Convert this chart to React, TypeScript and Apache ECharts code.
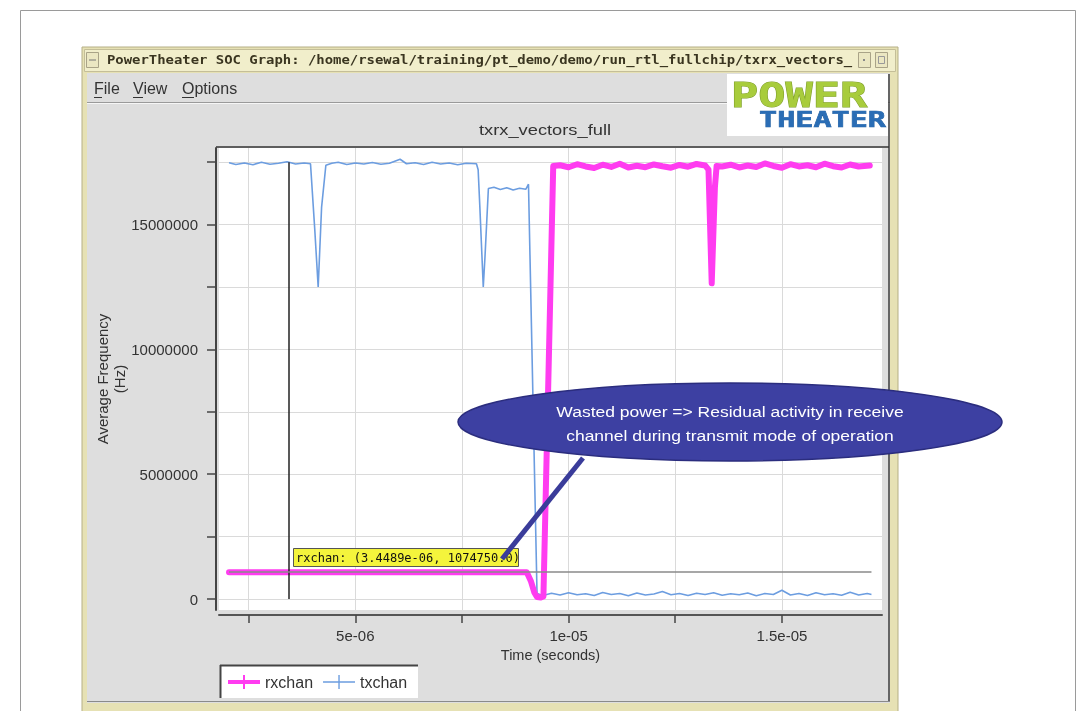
import React, { useEffect, useRef } from 'react';
import * as echarts from 'echarts';

// ---- data (time in microseconds, frequency in MHz) ----
const txTimeUs = [
  2.04, 2.2, 2.4, 2.6, 2.8, 3.0, 3.2, 3.4, 3.6, 3.8, 3.95,
  4.05, 4.13, 4.21, 4.31,
  4.45, 4.6, 4.8, 5.0, 5.2, 5.4, 5.6, 5.8, 6.05, 6.2, 6.4, 6.6, 6.8, 7.0, 7.2, 7.4, 7.6, 7.84,
  7.88, 7.92, 8.0, 8.04, 8.12,
  8.25, 8.4, 8.55, 8.7, 8.85, 9.0, 9.06,
  9.26, 9.4, 9.6, 9.8, 10.0, 10.2, 10.4, 10.6, 10.8, 11.0, 11.2, 11.4, 11.6, 11.8, 12.0,
  12.2, 12.4, 12.6, 12.8, 13.0, 13.2, 13.4, 13.6, 13.8, 14.0, 14.2, 14.4, 14.6, 14.8, 15.0,
  15.2, 15.4, 15.6, 15.8, 16.0, 16.2, 16.4, 16.6, 16.8, 17.0, 17.1,
];
const txFreqMHz = [
  17.48, 17.41, 17.47, 17.40, 17.50, 17.42, 17.46, 17.52, 17.43, 17.47, 17.44,
  14.8, 12.5, 15.7, 17.38,
  17.46, 17.50, 17.41, 17.47, 17.43, 17.49, 17.42, 17.46, 17.62, 17.44, 17.48, 17.41, 17.50, 17.43, 17.47, 17.40, 17.46, 17.44,
  17.2, 15.7, 12.5, 13.7, 16.45,
  16.50, 16.41, 16.48, 16.39, 16.46, 16.42, 16.62,
  0.22, 0.14, 0.23, 0.16, 0.25, 0.17, 0.21, 0.14, 0.26, 0.18, 0.22, 0.13, 0.24, 0.16, 0.20,
  0.30, 0.17, 0.22, 0.14, 0.23, 0.18, 0.25, 0.15, 0.21, 0.17, 0.24, 0.13, 0.22, 0.18, 0.35,
  0.16, 0.22, 0.14, 0.25, 0.17, 0.21, 0.15, 0.27, 0.16, 0.22, 0.18,
];
const rxTimeUs = [
  2.04, 3.4489, 5.0, 7.0, 8.9, 9.02,
  9.12, 9.2, 9.26, 9.35, 9.41, 9.64,
  9.8, 10.0, 10.2, 10.4, 10.6, 10.8, 11.0, 11.2, 11.4, 11.6, 11.8, 12.0, 12.2, 12.4, 12.6, 12.8, 13.0, 13.2,
  13.28, 13.355, 13.43, 13.47,
  13.6, 13.8, 14.0, 14.2, 14.4, 14.6, 14.8, 15.0, 15.2, 15.4, 15.6, 15.8, 16.0, 16.2, 16.4, 16.6, 16.8, 17.06,
];
const rxFreqMHz = [
  1.07475, 1.07475, 1.07475, 1.07475, 1.07475, 1.07475,
  0.70, 0.25, 0.08, 0.06, 0.10, 17.35,
  17.38, 17.30, 17.42, 17.33, 17.27, 17.40, 17.31, 17.44, 17.29, 17.36, 17.30, 17.41, 17.34, 17.28, 17.39, 17.32, 17.43, 17.37,
  17.2, 12.65, 16.5, 17.35,
  17.33, 17.40, 17.29, 17.37, 17.31, 17.45, 17.35, 17.28, 17.42, 17.33, 17.38, 17.30, 17.44, 17.34, 17.29, 17.41, 17.33, 17.37,
];

const seriesNames = ['rxchan', 'txchan'];
const yTickValues = [0, 2500000, 5000000, 7500000, 10000000, 12500000, 15000000, 17500000];
const yLabelValues = [0, 5000000, 10000000, 15000000];
const xTickValues = [2.5e-6, 5e-6, 7.5e-6, 1e-5, 1.25e-5, 1.5e-5];
const xLabelValues = [5e-6, 1e-5, 1.5e-5];
const xLabelTexts = ['5e-06', '1e-05', '1.5e-05'];
const cursorTime = 3.4489e-6;
const cursorFreq = 1074750;
const cursorLabel = 'rxchan: (3.4489e-06, 1074750.0)';
const calloutText = 'Wasted power => Residual activity in receive\nchannel during transmit mode of operation';
const windowTitle = 'PowerTheater SOC Graph: /home/rsewal/training/pt_demo/demo/run_rtl_fullchip/txrx_vectors_';
const chartTitle = 'txrx_vectors_full';

const SANS = "'Liberation Sans', Arial, sans-serif";
const MONO = "'DejaVu Sans Mono', monospace";

function App() {
  const ref = useRef<HTMLDivElement>(null);
  useEffect(() => {
    if (!ref.current) return;
    const chart = echarts.init(ref.current, null, { renderer: 'svg' });
    const txData = txTimeUs.map((t, i) => [t * 1e-6, txFreqMHz[i] * 1e6]);
    const rxData = rxTimeUs.map((t, i) => [t * 1e-6, rxFreqMHz[i] * 1e6]);
    const tStart = txTimeUs[0] * 1e-6;
    const tEnd = txTimeUs[txTimeUs.length - 1] * 1e-6;

    const bg = (el: any) => ({ ...el, z: -10, silent: true });
    const fg = (el: any) => ({ ...el, z: 50, silent: true });
    const txt = (x: number, y: number, text: string, font: string, fill: string, align = 'left', extra: any = {}, styleExtra: any = {}) => ({
      type: 'text',
      x, y,
      ...extra,
      style: { text, x: 0, y: 0, font, fill, align, textAlign: align, verticalAlign: 'middle', textVerticalAlign: 'middle', ...styleExtra },
    });

    const graphics: any[] = [
      bg({ type: 'rect', shape: { x: 20.5, y: 10.5, width: 1055, height: 720 }, style: { fill: '#ffffff', stroke: '#9a9a9a', lineWidth: 1 } }),
      bg({ type: 'rect', shape: { x: 82, y: 47, width: 816, height: 680 }, style: { fill: '#e6e1b4', stroke: '#b5af86', lineWidth: 1 } }),
      bg({ type: 'rect', shape: { x: 84.5, y: 49.5, width: 811, height: 22 }, style: { fill: '#f1eecb', stroke: '#c4be98', lineWidth: 1 } }),
      bg({ type: 'rect', shape: { x: 86.5, y: 52.5, width: 12, height: 15 }, style: { fill: '#ebe7c2', stroke: '#a9a387', lineWidth: 1 } }),
      bg({ type: 'line', shape: { x1: 89, y1: 60, x2: 96, y2: 60 }, style: { stroke: '#777', lineWidth: 1 } }),
      bg({ type: 'rect', shape: { x: 858.5, y: 52.5, width: 12, height: 15 }, style: { fill: '#ebe7c2', stroke: '#a9a387', lineWidth: 1 } }),
      bg({ type: 'rect', shape: { x: 863, y: 59, width: 2, height: 2 }, style: { fill: '#888' } }),
      bg({ type: 'rect', shape: { x: 875.5, y: 52.5, width: 12, height: 15 }, style: { fill: '#ebe7c2', stroke: '#a9a387', lineWidth: 1 } }),
      bg({ type: 'rect', shape: { x: 878.5, y: 56.5, width: 6, height: 7 }, style: { fill: 'none', stroke: '#999', lineWidth: 1 } }),
      bg(txt(107, 60, windowTitle, `bold 12px ${MONO}`, '#3a3520', 'left', { scaleX: 1.16 })),
      // content area
      bg({ type: 'rect', shape: { x: 87, y: 73, width: 803, height: 630 }, style: { fill: '#dedede' } }),
      bg(txt(94, 88, 'File', `16px ${SANS}`, '#333')),
      bg(txt(133, 88, 'View', `16px ${SANS}`, '#333')),
      bg(txt(182, 88, 'Options', `16px ${SANS}`, '#333')),
      bg({ type: 'line', shape: { x1: 94, y1: 97.5, x2: 102, y2: 97.5 }, style: { stroke: '#333', lineWidth: 1 } }),
      bg({ type: 'line', shape: { x1: 133, y1: 97.5, x2: 143, y2: 97.5 }, style: { stroke: '#333', lineWidth: 1 } }),
      bg({ type: 'line', shape: { x1: 182, y1: 97.5, x2: 194, y2: 97.5 }, style: { stroke: '#333', lineWidth: 1 } }),
      bg({ type: 'line', shape: { x1: 87, y1: 102.5, x2: 890, y2: 102.5 }, style: { stroke: '#9a9a9a', lineWidth: 1 } }),
      bg({ type: 'line', shape: { x1: 87, y1: 103.5, x2: 890, y2: 103.5 }, style: { stroke: '#f6f6f6', lineWidth: 1 } }),
      // logo
      bg({ type: 'rect', shape: { x: 727, y: 74, width: 161, height: 62 }, style: { fill: '#ffffff' } }),
      bg(txt(731, 95, 'POWER', `bold 29px ${MONO}`, '#a8cc3c', 'left', { scaleX: 1.56, scaleY: 1.15 }, { stroke: '#7f9f2c', lineWidth: 0.8 })),
      bg(txt(759, 119, 'THEATER', `bold 22px ${MONO}`, '#2a6db5', 'left', { scaleX: 1.37 }, { stroke: '#1d5a9a', lineWidth: 0.6 })),
      // right border & bottom
      bg({ type: 'line', shape: { x1: 889, y1: 74, x2: 889, y2: 702 }, style: { stroke: '#3c3c3c', lineWidth: 1.5 } }),
      bg({ type: 'line', shape: { x1: 87, y1: 701.5, x2: 890, y2: 701.5 }, style: { stroke: '#8a8a8a', lineWidth: 1 } }),
      // plot frame top
      bg({ type: 'line', shape: { x1: 216, y1: 147, x2: 889, y2: 147 }, style: { stroke: '#333', lineWidth: 1.5 } }),
      bg(txt(545, 130, chartTitle, `15px ${SANS}`, '#333', 'center', { scaleX: 1.22 })),
      // legend box
      bg({ type: 'rect', shape: { x: 220, y: 665, width: 198, height: 33 }, style: { fill: '#ffffff' } }),
      bg({ type: 'line', shape: { x1: 220, y1: 665.5, x2: 418, y2: 665.5 }, style: { stroke: '#444', lineWidth: 2 } }),
      bg({ type: 'line', shape: { x1: 220.5, y1: 665, x2: 220.5, y2: 698 }, style: { stroke: '#444', lineWidth: 2 } }),
      // cursor tooltip
      fg({ type: 'rect', shape: { x: 293.5, y: 548.5, width: 225, height: 18 }, style: { fill: '#f4f43c', stroke: '#555', lineWidth: 1 } }),
      fg(txt(296, 558, cursorLabel, `12px ${MONO}`, '#111')),
      // callout
      fg({ type: 'line', shape: { x1: 583, y1: 458, x2: 502, y2: 559 }, style: { stroke: '#3a3c9a', lineWidth: 5 } }),
      fg({ type: 'ellipse', shape: { cx: 730, cy: 422, rx: 272, ry: 39 }, style: { fill: '#3d40a2', stroke: '#2b2d7e', lineWidth: 1.5 } }),
      {
        type: 'text', x: 730, y: 424, z: 51, silent: true, scaleX: 1.13,
        style: { text: calloutText, x: 0, y: 0, font: `15.5px ${SANS}`, fill: '#ffffff', align: 'center', textAlign: 'center', verticalAlign: 'middle', textVerticalAlign: 'middle', lineHeight: 24 },
      },
    ];

    const option: any = {
      animation: false,
      backgroundColor: 'transparent',
      graphic: { elements: graphics },
      grid: {
        left: 219, right: 204, top: 148, bottom: 101,
        show: true, backgroundColor: '#ffffff', borderWidth: 0,
        outerBoundsMode: 'none', containLabel: false,
      },
      legend: {
        data: [
          { name: seriesNames[0], icon: 'path://M0,5 H32 V9 H0 Z M15,0 H17 V14 H15 Z' },
          { name: seriesNames[1], icon: 'path://M0,6.3 H32 V7.7 H0 Z M15.3,0 H16.7 V14 H15.3 Z' },
        ],
        left: 223, top: 669, itemWidth: 32, itemHeight: 14, itemGap: 10,
        textStyle: { fontSize: 16, color: '#333', fontFamily: SANS },
        selectedMode: false,
      },
      xAxis: {
        type: 'value', min: 1.805e-6, max: 1.7347e-5, position: 'bottom', offset: 5,
        name: 'Time (seconds)', nameLocation: 'middle', nameGap: 32, nameMoveOverlap: false,
        nameTextStyle: { fontSize: 14.5, color: '#333', fontFamily: SANS },
        axisLine: { show: true, onZero: false, lineStyle: { color: '#555', width: 2 } },
        axisTick: { show: true, customValues: xTickValues, length: 8, lineStyle: { color: '#444', width: 1.5 } },
        axisLabel: {
          show: true, customValues: xLabelValues, margin: 13, fontSize: 15, color: '#333', fontFamily: SANS,
          formatter: (v: number) => {
            const i = xLabelValues.findIndex((x) => Math.abs(x - v) < 1e-9);
            return i >= 0 ? xLabelTexts[i] : '';
          },
        },
        splitLine: { show: true, lineStyle: { color: '#dadada', width: 1 } },
      },
      yAxis: {
        type: 'value', min: -440000, max: 18070000, position: 'left', offset: 3,
        name: 'Average Frequency\n(Hz)', nameLocation: 'middle', nameGap: 88, nameRotate: 90, nameMoveOverlap: false,
        nameTextStyle: { fontSize: 15, color: '#333', fontFamily: SANS, lineHeight: 17 },
        axisLine: { show: true, onZero: false, lineStyle: { color: '#444', width: 2 } },
        axisTick: { show: true, customValues: yTickValues, length: 9, lineStyle: { color: '#444', width: 1.5 } },
        axisLabel: {
          show: true, customValues: yLabelValues, margin: 18, fontSize: 15, color: '#333', fontFamily: SANS,
          formatter: (v: number) => String(Math.round(v)),
        },
        splitLine: { show: true, lineStyle: { color: '#dadada', width: 1 } },
      },
      series: [
        {
          name: seriesNames[1], type: 'line', data: txData, showSymbol: false, symbol: 'none', z: 2,
          lineStyle: { color: '#6c9de0', width: 1.6 }, itemStyle: { color: '#6c9de0' },
          markLine: {
            silent: true, symbol: ['none', 'none'], label: { show: false },
            lineStyle: { type: 'solid' },
            data: [
              [{ coord: [cursorTime, 0], lineStyle: { color: '#222', width: 1.5, type: 'solid' } }, { coord: [cursorTime, 17500000] }],
              [{ coord: [tStart, cursorFreq], lineStyle: { color: '#8a8a8a', width: 1.5, type: 'solid' } }, { coord: [tEnd, cursorFreq] }],
            ],
          },
        },
        {
          name: seriesNames[0], type: 'line', data: rxData, showSymbol: false, symbol: 'none', z: 3,
          lineStyle: { color: '#ff3cf0', width: 6, join: 'round', cap: 'round' }, itemStyle: { color: '#ff3cf0' },
        },
      ],
    };
    chart.setOption(option);
    return () => chart.dispose();
  }, []);
  return <div ref={ref} style={{ position: 'fixed', left: 0, top: 0, width: 1086, height: 711 }} />;
}

export default App;
